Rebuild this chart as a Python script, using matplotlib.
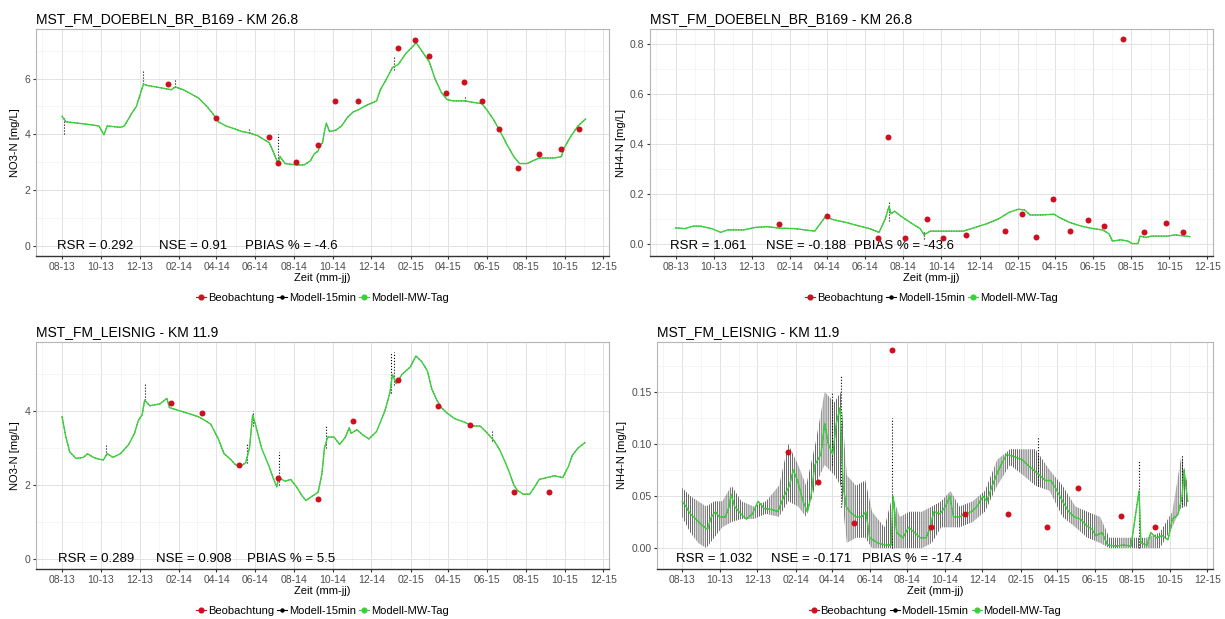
import pandas as pd
import matplotlib
matplotlib.use("Agg")
import matplotlib.pyplot as plt
import matplotlib.dates as mdates
from matplotlib.lines import Line2D
from matplotlib.ticker import MultipleLocator, FormatStrFormatter

plt.rcParams['font.family'] = ['Liberation Sans', 'DejaVu Sans']
plt.rcParams['hatch.linewidth'] = 0.45

# ---------------- MST_FM_DOEBELN_BR_B169 ----------------
doe_obs_dates = ['2014-01-14', '2014-03-31', '2014-06-22', '2014-07-07', '2014-08-04',
                 '2014-09-08', '2014-10-04', '2014-11-10', '2015-01-11', '2015-02-07',
                 '2015-03-02', '2015-03-29', '2015-04-25', '2015-05-24', '2015-06-19',
                 '2015-07-19', '2015-08-21', '2015-09-26', '2015-10-23']
doe_no3_obs = [5.79, 4.59, 3.90, 2.97, 3.00, 3.60, 5.19, 5.19, 7.09, 7.39,
               6.80, 5.49, 5.89, 5.19, 4.20, 2.79, 3.30, 3.49, 4.20]
doe_nh4_obs = [0.080, 0.110, 0.024, 0.430, 0.023, 0.100, 0.021, 0.035, 0.051, 0.120,
               0.028, 0.180, 0.052, 0.094, 0.070, 0.820, 0.046, 0.082, 0.046]

doe_no3_mod_dates = ['2013-08-01', '2013-08-07', '2013-08-26', '2013-09-13', '2013-09-28',
                     '2013-10-06', '2013-10-11', '2013-11-01', '2013-11-07', '2013-11-20',
                     '2013-11-26', '2013-12-07', '2013-12-14', '2013-12-27', '2014-01-08',
                     '2014-01-20', '2014-01-26', '2014-02-08', '2014-02-20', '2014-03-04',
                     '2014-03-17', '2014-03-26', '2014-04-04', '2014-04-16', '2014-04-29',
                     '2014-05-11', '2014-05-23', '2014-06-05', '2014-06-23', '2014-06-29',
                     '2014-07-07', '2014-07-10', '2014-07-18', '2014-08-05', '2014-08-17',
                     '2014-08-27', '2014-09-02', '2014-09-08', '2014-09-11', '2014-09-15',
                     '2014-09-18', '2014-09-21', '2014-09-26', '2014-10-06', '2014-10-15',
                     '2014-10-24', '2014-11-02', '2014-11-12', '2014-11-24', '2014-12-09',
                     '2014-12-15', '2014-12-25', '2015-01-03', '2015-01-12', '2015-01-24',
                     '2015-02-06', '2015-02-09', '2015-02-18', '2015-03-02', '2015-03-11',
                     '2015-03-21', '2015-03-30', '2015-04-08', '2015-04-27', '2015-05-09',
                     '2015-05-24', '2015-06-03', '2015-06-12', '2015-06-24', '2015-07-03',
                     '2015-07-13', '2015-07-22', '2015-08-03', '2015-08-12', '2015-08-22',
                     '2015-09-03', '2015-09-15', '2015-09-26', '2015-09-30', '2015-10-10',
                     '2015-10-22', '2015-11-03']
doe_no3_mod = [4.65, 4.45, 4.40, 4.35, 4.30, 3.98, 4.30, 4.25, 4.30, 4.80,
               5.00, 5.80, 5.75, 5.70, 5.65, 5.60, 5.70, 5.60, 5.45, 5.30,
               5.00, 4.75, 4.45, 4.30, 4.20, 4.10, 4.05, 3.95, 3.70, 3.40,
               2.95, 3.20, 2.95, 2.90, 2.90, 3.05, 3.30, 3.40, 3.60, 3.70,
               4.10, 4.40, 4.10, 4.15, 4.30, 4.60, 4.80, 4.90, 5.05, 5.20,
               5.60, 6.00, 6.40, 6.50, 6.90, 7.20, 7.30, 7.00, 6.60, 6.00,
               5.50, 5.25, 5.20, 5.20, 5.15, 5.10, 4.80, 4.50, 4.00, 3.60,
               3.20, 2.95, 2.95, 3.05, 3.15, 3.15, 3.15, 3.20, 3.50, 3.90,
               4.30, 4.55]
doe_no3_spk_dates = ['2013-08-04', '2013-12-07', '2014-01-26', '2014-05-23', '2014-07-07',
                     '2015-01-06', '2015-04-27']
doe_no3_spk_lo = [4.00, 5.80, 5.70, 4.05, 2.95, 6.30, 5.20]
doe_no3_spk_hi = [4.60, 6.30, 5.95, 4.20, 4.00, 6.80, 5.35]

doe_nh4_mod_dates = ['2013-08-01', '2013-08-16', '2013-08-29', '2013-09-10', '2013-09-28',
                     '2013-10-12', '2013-10-24', '2013-11-18', '2013-12-07', '2013-12-26',
                     '2014-01-14', '2014-02-08', '2014-03-12', '2014-03-29', '2014-04-12',
                     '2014-05-01', '2014-05-20', '2014-06-08', '2014-06-23', '2014-07-03',
                     '2014-07-09', '2014-07-12', '2014-07-18', '2014-07-28', '2014-08-03',
                     '2014-08-15', '2014-08-28', '2014-09-03', '2014-09-13', '2014-09-29',
                     '2014-10-17', '2014-11-05', '2014-11-24', '2014-12-13', '2015-01-01',
                     '2015-01-17', '2015-02-01', '2015-02-11', '2015-02-20', '2015-03-11',
                     '2015-03-30', '2015-04-08', '2015-04-24', '2015-05-13', '2015-06-01',
                     '2015-06-16', '2015-06-26', '2015-07-02', '2015-07-15', '2015-07-27',
                     '2015-08-02', '2015-08-12', '2015-08-15', '2015-08-24', '2015-09-03',
                     '2015-09-28', '2015-10-10', '2015-11-03']
doe_nh4_mod = [0.063, 0.060, 0.070, 0.070, 0.060, 0.045, 0.055, 0.055, 0.065, 0.068,
               0.062, 0.060, 0.050, 0.108, 0.095, 0.085, 0.072, 0.060, 0.045, 0.100,
               0.150, 0.120, 0.130, 0.110, 0.100, 0.080, 0.060, 0.035, 0.050, 0.050,
               0.050, 0.050, 0.065, 0.080, 0.100, 0.125, 0.138, 0.135, 0.115, 0.115,
               0.118, 0.105, 0.085, 0.070, 0.060, 0.055, 0.040, 0.010, 0.015, 0.010,
               0.000, 0.000, 0.030, 0.025, 0.030, 0.030, 0.035, 0.028]
doe_nh4_spk_dates = ['2014-07-09', '2014-09-03']
doe_nh4_spk_lo = [0.090, 0.020]
doe_nh4_spk_hi = [0.170, 0.050]

# ---------------- MST_FM_LEISNIG ----------------
lei_obs_dates = ['2014-01-20', '2014-03-09', '2014-05-06', '2014-07-07', '2014-09-08',
                 '2014-11-02', '2015-01-11', '2015-03-15', '2015-05-05', '2015-07-14',
                 '2015-09-07']
lei_no3_obs = [4.23, 3.94, 2.53, 2.20, 1.61, 3.73, 4.85, 4.14, 3.64, 1.81, 1.81]
lei_nh4_obs = [0.092, 0.064, 0.024, 0.190, 0.020, 0.033, 0.033, 0.020, 0.058, 0.031, 0.020]

lei_no3_mod_dates = ['2013-08-01', '2013-08-07', '2013-08-13', '2013-08-23', '2013-09-04',
                     '2013-09-10', '2013-09-19', '2013-09-28', '2013-10-05', '2013-10-11',
                     '2013-10-20', '2013-11-01', '2013-11-14', '2013-11-23', '2013-11-29',
                     '2013-12-05', '2013-12-09', '2013-12-17', '2014-01-02', '2014-01-13',
                     '2014-01-17', '2014-01-26', '2014-02-14', '2014-03-04', '2014-03-14',
                     '2014-03-23', '2014-04-04', '2014-04-13', '2014-04-23', '2014-05-01',
                     '2014-05-08', '2014-05-17', '2014-05-23', '2014-05-28', '2014-06-02',
                     '2014-06-11', '2014-06-23', '2014-06-29', '2014-07-05', '2014-07-08',
                     '2014-07-18', '2014-07-27', '2014-08-05', '2014-08-14', '2014-08-20',
                     '2014-08-30', '2014-09-08', '2014-09-14', '2014-09-18', '2014-09-23',
                     '2014-10-03', '2014-10-12', '2014-10-21', '2014-10-27', '2014-10-30',
                     '2014-11-08', '2014-11-18', '2014-11-27', '2014-12-09', '2014-12-22',
                     '2014-12-30', '2015-01-03', '2015-01-09', '2015-01-18', '2015-01-31',
                     '2015-02-09', '2015-02-18', '2015-02-27', '2015-03-06', '2015-03-14',
                     '2015-03-21', '2015-03-30', '2015-04-11', '2015-04-27', '2015-05-09',
                     '2015-05-21', '2015-05-30', '2015-06-12', '2015-06-21', '2015-06-30',
                     '2015-07-07', '2015-07-13', '2015-07-19', '2015-07-28', '2015-08-07',
                     '2015-08-15', '2015-08-22', '2015-09-03', '2015-09-15', '2015-09-28',
                     '2015-10-07', '2015-10-13', '2015-10-22', '2015-11-02']
lei_no3_mod = [3.85, 3.30, 2.90, 2.72, 2.75, 2.85, 2.75, 2.70, 2.68, 2.85,
               2.75, 2.85, 3.10, 3.40, 3.75, 3.90, 4.30, 4.15, 4.20, 4.35,
               4.10, 4.05, 3.95, 3.85, 3.75, 3.65, 3.25, 2.85, 2.70, 2.55,
               2.50, 2.60, 3.00, 3.90, 3.60, 3.00, 2.50, 2.20, 1.95, 2.20,
               2.10, 2.15, 1.95, 1.70, 1.58, 1.70, 1.80, 2.30, 3.00, 3.30,
               3.30, 3.10, 3.30, 3.55, 3.40, 3.50, 3.35, 3.25, 3.45, 4.00,
               4.50, 5.00, 4.75, 5.00, 5.20, 5.50, 5.35, 5.10, 4.60, 4.30,
               4.10, 3.95, 3.80, 3.70, 3.60, 3.60, 3.45, 3.20, 2.95, 2.60,
               2.30, 2.00, 1.85, 1.75, 1.75, 1.95, 2.15, 2.20, 2.25, 2.20,
               2.50, 2.80, 3.00, 3.15]
lei_no3_spk_dates = ['2013-10-09', '2013-12-09', '2014-05-19', '2014-05-28', '2014-07-08',
                     '2014-09-20', '2015-01-01', '2015-01-06', '2015-06-09']
lei_no3_spk_lo = [2.80, 4.30, 2.60, 3.60, 2.00, 3.00, 4.50, 4.70, 3.20]
lei_no3_spk_hi = [3.10, 4.75, 3.10, 4.00, 2.90, 3.60, 5.60, 5.60, 3.50]

lei_nh4_mod_dates = ['2013-08-01', '2013-08-07', '2013-08-14', '2013-08-23', '2013-09-02',
                     '2013-09-11', '2013-09-17', '2013-09-24', '2013-09-30', '2013-10-10',
                     '2013-10-16', '2013-10-19', '2013-10-25', '2013-11-04', '2013-11-13',
                     '2013-11-23', '2013-12-02', '2013-12-12', '2013-12-25', '2014-01-03',
                     '2014-01-13', '2014-01-22', '2014-01-28', '2014-02-04', '2014-02-13',
                     '2014-02-20', '2014-02-26', '2014-03-04', '2014-03-14', '2014-03-20',
                     '2014-03-26', '2014-04-02', '2014-04-08', '2014-04-14', '2014-04-19',
                     '2014-04-24', '2014-04-30', '2014-05-10', '2014-05-19', '2014-05-26',
                     '2014-06-01', '2014-06-14', '2014-06-26', '2014-07-06', '2014-07-09',
                     '2014-07-15', '2014-07-25', '2014-08-03', '2014-08-13', '2014-08-22',
                     '2014-09-01', '2014-09-07', '2014-09-13', '2014-09-23', '2014-10-02',
                     '2014-10-09', '2014-10-15', '2014-10-25', '2014-11-03', '2014-11-13',
                     '2014-11-22', '2014-12-02', '2014-12-08', '2014-12-17', '2014-12-27',
                     '2015-01-09', '2015-01-21', '2015-02-03', '2015-02-16', '2015-02-28',
                     '2015-03-13', '2015-03-22', '2015-04-01', '2015-04-10', '2015-04-20',
                     '2015-04-29', '2015-05-09', '2015-05-18', '2015-05-28', '2015-06-03',
                     '2015-06-13', '2015-06-22', '2015-07-05', '2015-07-18', '2015-07-30',
                     '2015-08-12', '2015-08-15', '2015-08-25', '2015-08-31', '2015-09-09',
                     '2015-09-19', '2015-09-28', '2015-10-05', '2015-10-14', '2015-10-21',
                     '2015-10-24', '2015-10-27', '2015-10-30']
lei_nh4_mod = [0.045, 0.040, 0.033, 0.028, 0.022, 0.018, 0.030, 0.035, 0.030, 0.030,
               0.040, 0.052, 0.040, 0.033, 0.028, 0.033, 0.045, 0.038, 0.037, 0.035,
               0.050, 0.060, 0.075, 0.065, 0.045, 0.035, 0.050, 0.080, 0.090, 0.120,
               0.100, 0.090, 0.120, 0.135, 0.060, 0.040, 0.035, 0.030, 0.030, 0.035,
               0.010, 0.005, 0.003, 0.003, 0.050, 0.015, 0.010, 0.020, 0.015, 0.010,
               0.010, 0.020, 0.035, 0.033, 0.040, 0.050, 0.030, 0.030, 0.033, 0.035,
               0.040, 0.050, 0.045, 0.060, 0.075, 0.090, 0.088, 0.085, 0.078, 0.072,
               0.065, 0.065, 0.055, 0.045, 0.035, 0.030, 0.028, 0.022, 0.018, 0.012,
               0.015, 0.003, 0.002, 0.003, 0.002, 0.055, 0.005, 0.003, 0.015, 0.010,
               0.012, 0.008, 0.028, 0.032, 0.050, 0.075, 0.060, 0.045]
# 15-min values swing strongly over the day: lower/upper envelope
lei_nh4_band_dates = ['2013-08-01', '2013-08-14', '2013-08-27', '2013-09-09', '2013-09-22',
                      '2013-10-05', '2013-10-20', '2013-11-05', '2013-11-25', '2013-12-15',
                      '2014-01-05', '2014-01-20', '2014-02-05', '2014-02-18', '2014-03-05',
                      '2014-03-20', '2014-04-05', '2014-04-15', '2014-04-25', '2014-05-10',
                      '2014-05-25', '2014-06-05', '2014-06-25', '2014-07-08', '2014-07-20',
                      '2014-08-05', '2014-08-25', '2014-09-10', '2014-09-25', '2014-10-10',
                      '2014-10-25', '2014-11-15', '2014-12-05', '2014-12-25', '2015-01-15',
                      '2015-02-05', '2015-02-25', '2015-03-20', '2015-04-10', '2015-05-01',
                      '2015-05-20', '2015-06-10', '2015-06-25', '2015-07-20', '2015-08-12',
                      '2015-08-25', '2015-09-15', '2015-10-05', '2015-10-20', '2015-10-30']
lei_nh4_band_lo = [0.030, 0.015, 0.005, 0.000, 0.010, 0.020, 0.025, 0.028, 0.028, 0.033,
                   0.030, 0.045, 0.040, 0.030, 0.060, 0.080, 0.070, 0.060, 0.005, 0.010,
                   0.010, 0.000, 0.000, 0.000, 0.000, 0.000, 0.000, 0.005, 0.020, 0.020,
                   0.020, 0.025, 0.035, 0.060, 0.080, 0.070, 0.060, 0.055, 0.030, 0.020,
                   0.010, 0.005, 0.000, 0.000, 0.000, 0.000, 0.000, 0.020, 0.040, 0.040]
lei_nh4_band_hi = [0.058, 0.050, 0.045, 0.040, 0.045, 0.045, 0.060, 0.045, 0.040, 0.045,
                   0.060, 0.100, 0.080, 0.060, 0.100, 0.150, 0.140, 0.150, 0.070, 0.060,
                   0.065, 0.035, 0.020, 0.050, 0.030, 0.035, 0.035, 0.040, 0.045, 0.055,
                   0.040, 0.045, 0.055, 0.085, 0.095, 0.095, 0.095, 0.075, 0.060, 0.040,
                   0.035, 0.030, 0.010, 0.010, 0.010, 0.010, 0.015, 0.035, 0.090, 0.060]
lei_nh4_spk_dates = ['2014-04-01', '2014-04-15', '2014-07-08', '2015-03-01', '2015-08-12',
                     '2015-10-20']
lei_nh4_spk_lo = [0.080, 0.040, 0.000, 0.060, 0.000, 0.040]
lei_nh4_spk_hi = [0.150, 0.165, 0.125, 0.108, 0.085, 0.090]

stats = {
    'doe_no3': ['RSR = 0.292', 'NSE = 0.91', 'PBIAS % = -4.6'],
    'doe_nh4': ['RSR = 1.061', 'NSE = -0.188', 'PBIAS % = -43.6'],
    'lei_no3': ['RSR = 0.289', 'NSE = 0.908', 'PBIAS % = 5.5'],
    'lei_nh4': ['RSR = 1.032', 'NSE = -0.171', 'PBIAS % = -17.4'],
}

RED = '#CC1020'
GREEN = '#3AD03A'
X_LIM = (pd.Timestamp('2013-06-21'), pd.Timestamp('2015-12-10'))

fig = plt.figure(figsize=(12.25, 6.19), dpi=100)


def panel(rect, title, ylabel, obs_d, obs_v, mod_d, mod_v, spk_d, spk_lo, spk_hi,
          ylim, ystep, yfmt, texts, text_x, band=None):
    ax = fig.add_axes(rect)
    ax.set_xlim(*X_LIM)
    ax.set_ylim(*ylim)

    md = pd.to_datetime(mod_d)
    if band is not None:
        ax.fill_between(pd.to_datetime(band[0]), band[1], band[2], facecolor='none',
                        edgecolor='#111111', hatch='||||||||', linewidth=0, zorder=2)
    ax.plot(md, mod_v, color='black', lw=0.7, ls=':', zorder=2)
    ax.vlines(pd.to_datetime(spk_d), spk_lo, spk_hi, colors='black', lw=0.8,
              linestyles=':', zorder=2)
    ax.plot(md, mod_v, color=GREEN, lw=1.0, zorder=3)
    ax.plot(pd.to_datetime(obs_d), obs_v, 'o', color=RED, ms=4.3, mec='none', zorder=4)

    ax.xaxis.set_major_locator(mdates.MonthLocator(bymonth=[2, 4, 6, 8, 10, 12]))
    ax.xaxis.set_minor_locator(mdates.MonthLocator())
    ax.xaxis.set_major_formatter(mdates.DateFormatter('%m-%y'))
    ax.yaxis.set_major_locator(MultipleLocator(ystep))
    ax.yaxis.set_minor_locator(MultipleLocator(ystep / 2))
    ax.yaxis.set_major_formatter(FormatStrFormatter(yfmt))

    ax.grid(which='major', color='#E2E2E2', lw=0.7)
    ax.grid(which='minor', color='#F1F1F1', lw=0.5)
    ax.set_axisbelow(True)
    ax.tick_params(which='major', length=2.5, color='#333333', labelcolor='#4D4D4D',
                   labelsize=7.5, pad=1.5)
    ax.tick_params(which='minor', length=0)
    for side in ['top', 'right', 'left']:
        ax.spines[side].set_color('#B5B5B5')
        ax.spines[side].set_linewidth(0.8)
    ax.spines['bottom'].set_color('#333333')
    ax.spines['bottom'].set_linewidth(1.0)

    ax.set_title(title, loc='left', fontsize=10, pad=4)
    ax.set_ylabel(ylabel, fontsize=8, labelpad=3)
    ax.set_xlabel('Zeit (mm-jj)', fontsize=8, labelpad=1)

    for s, x in zip(texts, text_x):
        ax.text(x, 0.045, s, transform=ax.transAxes, fontsize=9.5, va='center', ha='left')

    handles = [
        Line2D([], [], color=RED, lw=0.8, marker='o', ms=3.4),
        Line2D([], [], color='black', lw=0.8, marker='o', ms=2.2),
        Line2D([], [], color=GREEN, lw=0.8, marker='o', ms=3.4),
    ]
    ax.legend(handles, ['Beobachtung', 'Modell-15min', 'Modell-MW-Tag'], loc='center',
              bbox_to_anchor=(0.5, -0.185), ncol=3, frameon=False, fontsize=8,
              handlelength=0.9, handletextpad=0.15, columnspacing=0.3)
    return ax


panel([0.0294, 0.5864, 0.4678, 0.3667], 'MST_FM_DOEBELN_BR_B169 - KM 26.8', 'NO3-N [mg/L]',
      doe_obs_dates, doe_no3_obs, doe_no3_mod_dates, doe_no3_mod,
      doe_no3_spk_dates, doe_no3_spk_lo, doe_no3_spk_hi,
      (-0.37, 7.78), 2, '%d', stats['doe_no3'], [0.037, 0.215, 0.365])

panel([0.5306, 0.5864, 0.4596, 0.3667], 'MST_FM_DOEBELN_BR_B169 - KM 26.8', 'NH4-N [mg/L]',
      doe_obs_dates, doe_nh4_obs, doe_nh4_mod_dates, doe_nh4_mod,
      doe_nh4_spk_dates, doe_nh4_spk_lo, doe_nh4_spk_hi,
      (-0.05, 0.862), 0.2, '%.1f', stats['doe_nh4'], [0.035, 0.206, 0.362])

panel([0.0294, 0.0808, 0.4678, 0.3667], 'MST_FM_LEISNIG - KM 11.9', 'NO3-N [mg/L]',
      lei_obs_dates, lei_no3_obs, lei_no3_mod_dates, lei_no3_mod,
      lei_no3_spk_dates, lei_no3_spk_lo, lei_no3_spk_hi,
      (-0.28, 5.88), 2, '%d', stats['lei_no3'], [0.038, 0.209, 0.368])

panel([0.5363, 0.0808, 0.4539, 0.3667], 'MST_FM_LEISNIG - KM 11.9', 'NH4-N [mg/L]',
      lei_obs_dates, lei_nh4_obs, lei_nh4_mod_dates, lei_nh4_mod,
      lei_nh4_spk_dates, lei_nh4_spk_lo, lei_nh4_spk_hi,
      (-0.02, 0.198), 0.05, '%.2f', stats['lei_nh4'], [0.034, 0.205, 0.369],
      band=(lei_nh4_band_dates, lei_nh4_band_lo, lei_nh4_band_hi))

fig.savefig('out.png', dpi=100)
